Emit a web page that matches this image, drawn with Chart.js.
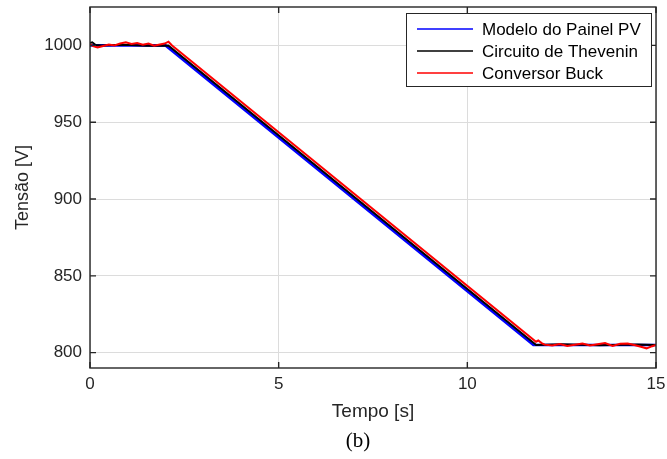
<!DOCTYPE html>
<html><head><meta charset="utf-8">
<script src="https://cdn.jsdelivr.net/npm/chart.js@4.4.0/dist/chart.umd.min.js"></script>
<style>html,body{margin:0;padding:0;background:#fff;}</style>
</head><body>
<canvas id="c" width="667" height="459"></canvas>
<script>
// ---- data ----
const seriesLabels = ['Modelo do Painel PV', 'Circuito de Thevenin', 'Conversor Buck'];
const seriesColors = ['#0000ff', '#000000', '#ff0000'];

const timeBlue = [0, 2.0, 11.75, 15];
const voltBlue = [1000, 1000, 805, 805];

const timeBlack = [0, 0.06, 0.15, 0.3, 0.9, 1.5, 2.075, 11.825, 12.5, 13.5, 14.5, 15];
const voltBlack = [1001.5, 1002, 1000.3, 1000, 1000.4, 999.8, 1000, 805, 805.4, 804.8, 805.3, 805];

const timeRed = [0, 0.08, 0.2, 0.35, 0.5, 0.65, 0.8, 0.95, 1.1, 1.25, 1.4, 1.55, 1.7, 1.85, 1.98, 2.08, 2.175,
                 11.82, 11.88, 11.97, 12.05, 12.25, 12.45, 12.65, 12.85, 13.05, 13.25, 13.45, 13.65, 13.85,
                 14.05, 14.25, 14.45, 14.6, 14.75, 14.9, 15];
const voltRed = [1000.8, 999.6, 998.6, 999.6, 1000.6, 1000, 1001.2, 1002, 1001, 1001.6, 1000.4, 1001.2, 999.8, 1000.6, 1001.2, 1002.4, 1000,
                 807.1, 807.9, 806.2, 805.2, 804.6, 805.6, 804.4, 805.2, 806, 804.6, 805.4, 806.2, 804.4,
                 805.8, 806, 804.8, 803.8, 802.8, 804.2, 805];

const xTicks = [0, 5, 10, 15];
const yTicks = [800, 850, 900, 950, 1000];
const xRange = [0, 15];
const yRange = [790, 1025];
const xTitle = 'Tempo [s]';
const yTitle = 'Tensão [V]';
const caption = '(b)';

// ---- chart ----
const pts = (t, v) => t.map((x, i) => ({x: x, y: v[i]}));
const FONT = '"Liberation Sans", Arial, sans-serif';
const AX = '#262626';

const framePlugin = {
  id: 'frame',
  afterDatasetsDraw(chart) {
    const {ctx, chartArea: a, scales: {x, y}} = chart;
    ctx.save();
    ctx.strokeStyle = AX; ctx.lineWidth = 1.4;
    ctx.strokeRect(a.left, a.top, a.right - a.left, a.bottom - a.top);
    ctx.beginPath();
    xTicks.forEach(v => { const px = x.getPixelForValue(v);
      ctx.moveTo(px, a.bottom); ctx.lineTo(px, a.bottom - 6);
      ctx.moveTo(px, a.top); ctx.lineTo(px, a.top + 6); });
    yTicks.forEach(v => { const py = y.getPixelForValue(v);
      ctx.moveTo(a.left, py); ctx.lineTo(a.left + 6, py);
      ctx.moveTo(a.right, py); ctx.lineTo(a.right - 6, py); });
    ctx.stroke();
    // legend box inside the plot
    const L = 406, T = 13, R = 651, B = 86;
    ctx.fillStyle = '#fff'; ctx.fillRect(L, T, R - L, B - T);
    ctx.lineWidth = 1; ctx.strokeStyle = '#262626';
    ctx.strokeRect(L + 0.5, T + 0.5, R - L, B - T);
    ctx.font = '17px ' + FONT; ctx.textBaseline = 'middle'; ctx.textAlign = 'left';
    seriesLabels.forEach((lab, i) => {
      const yy = 29 + i * 22;
      ctx.strokeStyle = seriesColors[i]; ctx.lineWidth = 1.3;
      ctx.beginPath(); ctx.moveTo(417, yy); ctx.lineTo(473, yy); ctx.stroke();
      ctx.fillStyle = '#000'; ctx.fillText(lab, 482, yy + 1);
    });
    ctx.font = '21px "Liberation Serif", "Times New Roman", serif';
    ctx.textAlign = 'center'; ctx.fillStyle = '#000';
    ctx.fillText(caption, 358, 441);
    ctx.restore();
  }
};

const mk = (i, t, v, order, w) => ({
  label: seriesLabels[i], data: pts(t, v), borderColor: seriesColors[i],
  backgroundColor: seriesColors[i], borderWidth: w, pointRadius: 0, tension: 0, order: order, fill: false
});

new Chart(document.getElementById('c'), {
  type: 'line',
  data: { datasets: [
    mk(0, timeBlue, voltBlue, 3, 2.6),
    mk(1, timeBlack, voltBlack, 2, 2),
    mk(2, timeRed, voltRed, 1, 2)
  ]},
  options: {
    responsive: false, animation: false, devicePixelRatio: 1,
    layout: { padding: { left: 0, top: 7, right: 11, bottom: 34 } },
    plugins: { legend: { display: false }, tooltip: { enabled: false }, title: { display: false } },
    scales: {
      x: {
        type: 'linear', min: xRange[0], max: xRange[1],
        afterBuildTicks: s => { s.ticks = xTicks.map(v => ({value: v})); },
        afterFit: s => { s.height = 57; s.paddingLeft = 0; s.paddingRight = 0; },
        grid: { color: '#dcdcdc', lineWidth: 1, drawTicks: false },
        border: { display: false },
        ticks: { padding: 6, color: AX, font: { family: FONT, size: 17 }, maxRotation: 0, callback: v => String(v) },
        title: { display: true, text: xTitle, color: AX, font: { family: FONT, size: 19 }, padding: { top: 0, bottom: 2 } }
      },
      y: {
        type: 'linear', min: yRange[0], max: yRange[1],
        afterBuildTicks: s => { s.ticks = yTicks.map(v => ({value: v})); },
        afterFit: s => { s.width = 90; s.paddingTop = 0; s.paddingBottom = 0; },
        grid: { color: '#dcdcdc', lineWidth: 1, drawTicks: false },
        border: { display: false },
        ticks: { padding: 8, color: AX, font: { family: FONT, size: 17 }, callback: v => String(v) },
        title: { display: true, text: yTitle, color: AX, font: { family: FONT, size: 18 }, padding: { top: 12, bottom: 0 } }
      }
    }
  },
  plugins: [framePlugin]
});
</script>
</body></html>
